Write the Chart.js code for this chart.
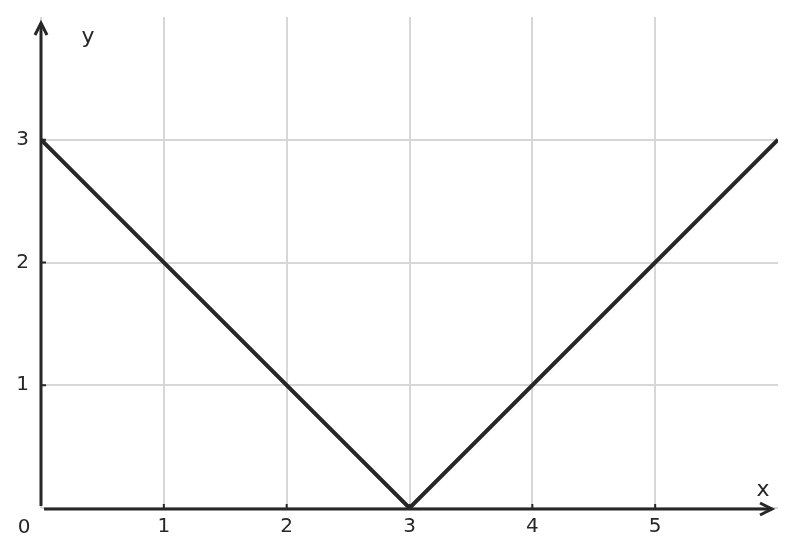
<!DOCTYPE html>
<html>
<head>
<meta charset="utf-8">
<script src="https://cdn.jsdelivr.net/npm/chart.js@4.4.1/dist/chart.umd.min.js"></script>
<style>
  html, body { margin: 0; padding: 0; background: #fff; }
  #wrap { width: 796px; height: 557px; position: relative; }
</style>
</head>
<body>
<div id="wrap"><canvas id="graph"></canvas></div>
<script>
// y = |x - 3|
var xValues = [0, 3, 6];
var yValues = [3, 0, 3];
var xRange = [0, 6];
var yRange = [0, 4];
var xLabelTicks = [1, 2, 3, 4, 5];
var yLabelTicks = [1, 2, 3];

var ink = '#272727';
var gridCol = '#d7d7d7';
var font = 'DejaVu Sans';

var points = xValues.map(function (x, i) { return { x: x, y: yValues[i] }; });

// axes with arrows, little ticks and the x / y / 0 labels
var axesPlugin = {
    id: 'axes',
    afterDatasetsDraw: function (chart) {
        var c = chart.ctx;
        var xs = chart.scales.x, ys = chart.scales.y;
        var x0 = xs.getPixelForValue(0), y0 = ys.getPixelForValue(0);
        var top = chart.chartArea.top, right = chart.chartArea.right;
        c.save();
        c.strokeStyle = ink;
        c.lineWidth = 3;
        c.lineCap = 'butt';
        // y axis
        c.beginPath();
        c.moveTo(x0, y0 - 2);
        c.lineTo(x0, top + 6);
        c.stroke();
        c.beginPath();
        c.moveTo(x0 - 6, top + 18);
        c.lineTo(x0, top + 6);
        c.lineTo(x0 + 6, top + 18);
        c.stroke();
        // x axis
        c.beginPath();
        c.moveTo(x0 + 3, y0 + 1);
        c.lineTo(right - 6, y0 + 1);
        c.stroke();
        c.beginPath();
        c.moveTo(right - 18, y0 - 5);
        c.lineTo(right - 6, y0 + 1);
        c.lineTo(right - 18, y0 + 7);
        c.stroke();
        // small ticks
        c.lineWidth = 2;
        xLabelTicks.forEach(function (v) {
            var px = xs.getPixelForValue(v);
            c.beginPath();
            c.moveTo(px, y0 - 4);
            c.lineTo(px, y0);
            c.stroke();
        });
        yLabelTicks.forEach(function (v) {
            var py = ys.getPixelForValue(v);
            c.beginPath();
            c.moveTo(x0, py);
            c.lineTo(x0 + 5, py);
            c.stroke();
        });
        // labels
        c.fillStyle = ink;
        c.textAlign = 'center';
        c.textBaseline = 'alphabetic';
        c.font = '20px "' + font + '"';
        c.fillText('0', x0 - 17, y0 + 25);
        c.font = '22px "' + font + '"';
        c.fillText('x', right - 15, y0 - 12);
        c.fillText('y', x0 + 47, top + 26);
        c.restore();
    }
};

var ctx = document.getElementById('graph').getContext('2d');
var chart = new Chart(ctx, {
    type: 'scatter',
    data: {
        datasets: [{
            data: points,
            showLine: true,
            borderColor: ink,
            borderWidth: 4,
            pointRadius: 0,
            tension: 0
        }]
    },
    options: {
        responsive: true,
        maintainAspectRatio: false,
        animation: false,
        layout: { padding: { left: 0, right: 18, top: 17, bottom: 0 } },
        plugins: { legend: { display: false }, tooltip: { enabled: false } },
        scales: {
            x: {
                type: 'linear',
                min: xRange[0],
                max: xRange[1],
                border: { display: false },
                grid: {
                    drawTicks: false,
                    lineWidth: 2,
                    color: function (g) { return g.tick && g.tick.value === xRange[1] ? 'rgba(0,0,0,0)' : gridCol; }
                },
                ticks: {
                    stepSize: 1,
                    padding: 7,
                    color: ink,
                    font: { family: font, size: 20 },
                    callback: function (v) { return xLabelTicks.indexOf(v) >= 0 ? String(v) : ''; }
                },
                afterFit: function (s) {
                    s.height = 49;
                    s.paddingLeft = 0;
                    s.paddingRight = 0;
                }
            },
            y: {
                type: 'linear',
                min: yRange[0],
                max: yRange[1],
                border: { display: false },
                grid: {
                    drawTicks: false,
                    lineWidth: 2,
                    color: function (g) { return g.tick && g.tick.value === yRange[1] ? 'rgba(0,0,0,0)' : gridCol; }
                },
                ticks: {
                    stepSize: 1,
                    padding: 12,
                    color: ink,
                    font: { family: font, size: 20 },
                    callback: function (v) { return yLabelTicks.indexOf(v) >= 0 ? String(v) : ''; }
                },
                afterFit: function (s) {
                    s.width = 41;
                    s.paddingTop = 0;
                    s.paddingBottom = 0;
                }
            }
        }
    },
    plugins: [axesPlugin]
});
</script>
</body>
</html>
